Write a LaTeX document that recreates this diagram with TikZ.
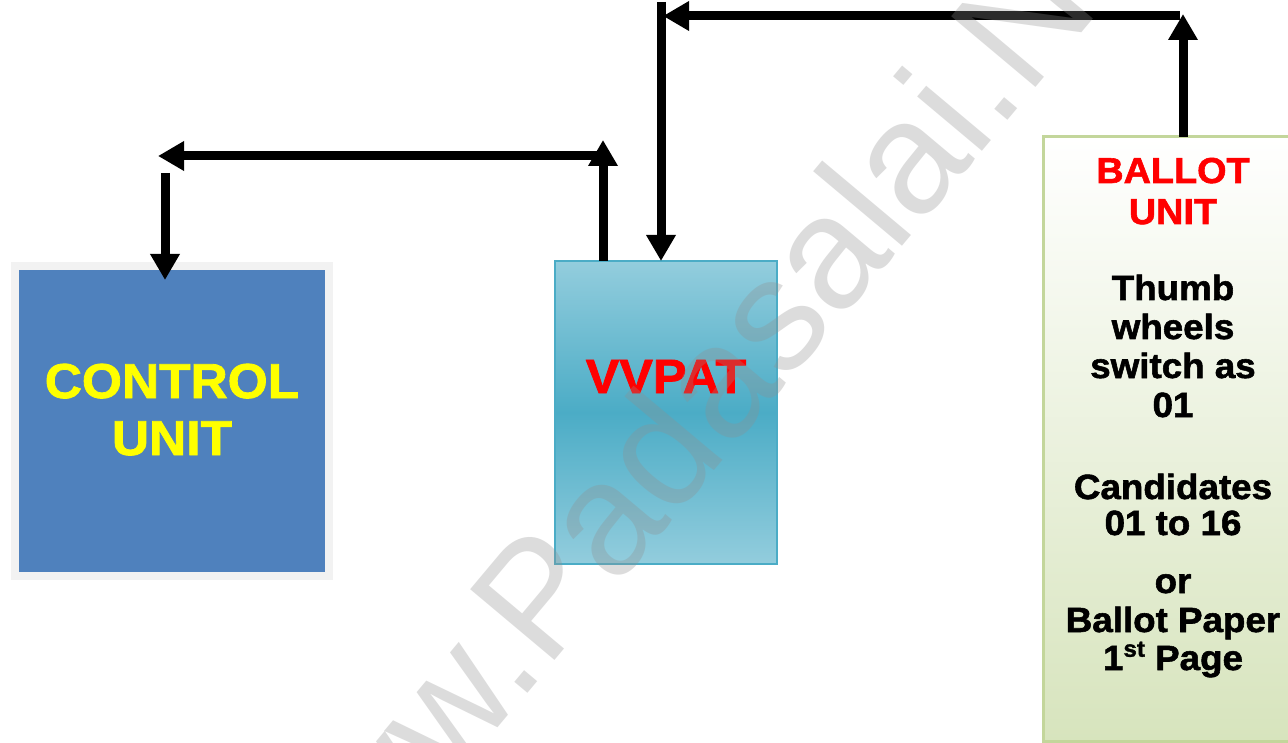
\documentclass[tikz,border=0pt]{standalone}
\usepackage{fontspec}
\setmainfont{Liberation Sans}
\newfontfamily\hv{Liberation Sans Bold}[FakeBold=1.6,FakeStretch=1.05]
\usetikzlibrary{arrows.meta}
\definecolor{cublue}{HTML}{4F81BD}
\definecolor{cuedge}{HTML}{F2F2F2}
\definecolor{vvtop}{HTML}{93CDDD}
\definecolor{vvmid}{HTML}{4BACC6}
\definecolor{vvedge}{HTML}{4BACC6}
\definecolor{buedge}{HTML}{C3D69B}
\definecolor{bubot}{HTML}{D7E4BD}
\definecolor{yel}{HTML}{FFFF00}
\definecolor{myred}{HTML}{FF0000}
\definecolor{wmgray}{HTML}{8F8F8F}
\begin{document}
\begin{tikzpicture}[x=1pt,y=-1pt,
  conn/.style={line width=9pt,-{Triangle[length=26pt,width=28pt]}},
  cubox/.style={draw=cuedge,line width=8pt,fill=cublue,minimum width=314pt,minimum height=310pt,inner sep=0pt,outer sep=0pt},
  vvbox/.style={draw=vvedge,line width=2.5pt,top color=vvtop,bottom color=vvtop,middle color=vvmid,minimum width=222pt,minimum height=303pt,inner sep=0pt,outer sep=0pt},
  bubox/.style={draw=buedge,line width=3pt,top color=white,bottom color=bubot,minimum width=247pt,minimum height=604pt,inner sep=0pt,outer sep=0pt},
  cutxt/.style={anchor=base,inner sep=0pt,text=yel,font=\hv\fontsize{49}{49}\selectfont},
  vvtxt/.style={anchor=base,inner sep=0pt,text=myred,font=\hv\fontsize{48}{48}\selectfont},
  butitle/.style={anchor=base,inner sep=0pt,text=myred,font=\hv\fontsize{36}{36}\selectfont},
  butxt/.style={anchor=base,inner sep=0pt,text=black,font=\hv\fontsize{35}{35}\selectfont},
  wmark/.style={anchor=base west,inner sep=0pt,rotate=50,text=wmgray,text opacity=0.31,font=\fontsize{160}{160}\selectfont}]
\useasboundingbox (0,0) rectangle (1288,743);
\clip (0,0) rectangle (1288,743);
\fill[white] (0,0) rectangle (1288,743);

% boxes
\node[cubox] (cu) at (172,421) {};
\node[vvbox] (vv) at (666,412.5) {};
\node[bubox] (bu) at (1166.5,439) {};

% texts
\node[cutxt] (cu1) at (172,398) {CONTROL};
\node[cutxt] (cu2) at (172,455) {UNIT};
\node[vvtxt] (vvt) at (666,393) {VVPAT};
\node[butitle] (bt1) at (1173,183) {BALLOT};
\node[butitle] (bt2) at (1173,224) {UNIT};
\node[butxt] (b1) at (1173,300) {Thumb};
\node[butxt] (b2) at (1173,339) {wheels};
\node[butxt] (b3) at (1173,378) {switch as};
\node[butxt] (b4) at (1173,417) {01};
\node[butxt] (b5) at (1173,499) {Candidates};
\node[butxt] (b6) at (1173,535) {01 to 16};
\node[butxt] (b7) at (1173,593) {or};
\node[butxt] (b8) at (1173,632) {Ballot Paper};
\node[butxt] (b9) at (1173,670) {1\raisebox{0.38em}{\fontsize{23}{23}\selectfont st} Page};

% connector points
\coordinate (aTop) at (603,140);
\coordinate (bR) at (603,156);
\coordinate (bL) at (158,156);
\coordinate (cT) at (165,173);
\coordinate (dTop) at (1183,14);
\coordinate (eR) at (1180,16);
\coordinate (eL) at (663,16);
\coordinate (fT) at (661,2);

% connectors
\draw[conn] (vv.north -| aTop) -- (aTop);
\draw[conn] (bR) -- (bL);
\draw[conn,shorten >=-14pt] (cT) -- (cu.north -| cT);
\draw[conn] (bu.north -| dTop) -- (dTop);
\draw[conn] (eR) -- (eL);
\draw[conn] (fT) -- (vv.north -| fT);

% watermark
\node[wmark] (wm) at (301,963) {www.Padasalai.Net};
\end{tikzpicture}
\end{document}
